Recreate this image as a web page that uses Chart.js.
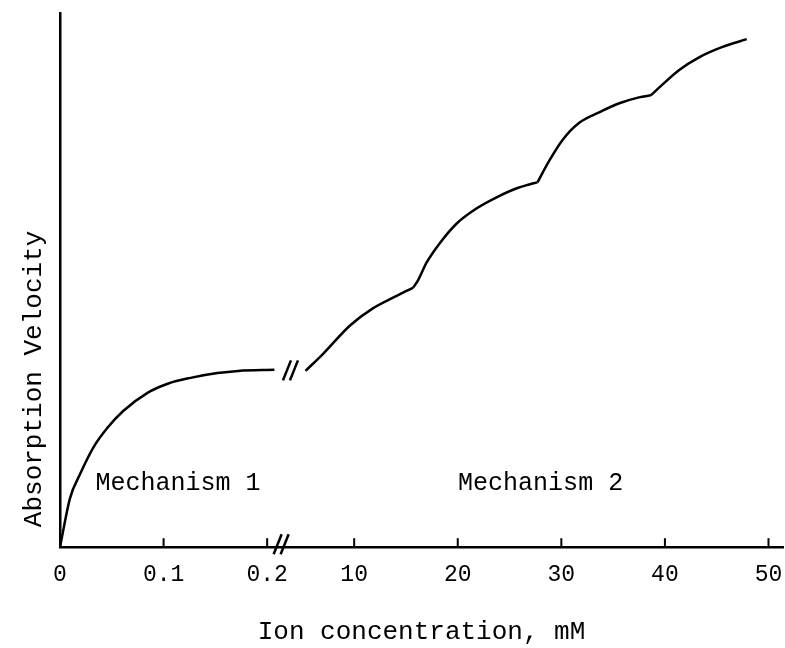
<!DOCTYPE html>
<html>
<head>
<meta charset="utf-8">
<script src="https://cdn.jsdelivr.net/npm/chart.js@4"></script>
<style>
    html, body { margin: 0; padding: 0; background: #fff; }
</style>
</head>
<body>
<canvas id="absorptionChart" width="785" height="648"></canvas>
<script>
// Mechanism 1: low concentration range (mM)
const mech1Conc = [0, 0.0097, 0.0194, 0.032, 0.0456, 0.061, 0.0845, 0.104, 0.126, 0.152, 0.172, 0.207];
const mech1Vel  = [0, 9.2, 13.7, 18.6, 22.3, 25.5, 28.9, 30.6, 31.7, 32.6, 33.0, 33.2];

// Mechanism 2: high concentration range, split at the cusps
const mech2aConc = [5.3, 7.0, 9.6, 11.8, 13.75, 15.7];
const mech2aVel  = [33.0, 36.2, 41.5, 44.7, 46.7, 48.6];
const mech2bConc = [15.7, 16.15, 17.0, 18.3, 19.9, 21.8, 23.75, 25.7, 26.9, 27.7];
const mech2bVel  = [48.6, 49.9, 53.3, 57.0, 60.6, 63.4, 65.5, 67.2, 67.9, 68.3];
const mech2cConc = [27.7, 28.85, 30.1, 31.7, 33.65, 35.6, 37.5, 38.65];
const mech2cVel  = [68.3, 72.4, 76.2, 79.4, 81.4, 83.1, 84.2, 84.6];
const mech2dConc = [38.65, 39.7, 41.35, 43.3, 45.5, 47.9];
const mech2dVel  = [84.6, 86.5, 89.3, 91.7, 93.6, 95.1];

// x axis tick labels (axis is broken between 0.2 and 10 mM)
const tickConc   = [0, 0.1, 0.2, 10, 20, 30, 40, 50];
const tickLabels = ['0', '0.1', '0.2', '10', '20', '30', '40', '50'];

// map a concentration onto the broken axis
function toAxis(c) {
    return c <= 1 ? c * 1000 : 284 + (c - 10) * 10;
}

function toPoints(conc, vel) {
    return conc.map((c, i) => ({ x: toAxis(c), y: vel[i] }));
}

const FONT = "'Liberation Mono', 'DejaVu Sans Mono', monospace";

function curve(conc, vel) {
    return {
        data: toPoints(conc, vel),
        borderColor: '#000',
        borderWidth: 2.5,
        pointRadius: 0,
        cubicInterpolationMode: 'monotone',
        fill: false
    };
}

// tick marks pointing up, break marks, y title and the two labels
const extrasPlugin = {
    id: 'extras',
    afterDraw(chart) {
        const ctx = chart.ctx;
        const xs = chart.scales.x;
        const ys = chart.scales.y;
        const bottom = chart.chartArea.bottom;
        ctx.save();
        ctx.strokeStyle = '#000';
        ctx.lineWidth = 2;
        xs.ticks.forEach((t, i) => {
            if (i === 0) return;
            const px = xs.getPixelForValue(t.value);
            ctx.beginPath();
            ctx.moveTo(px, bottom);
            ctx.lineTo(px, bottom - 9);
            ctx.stroke();
        });

        const slash = (cx, cy) => {
            ctx.beginPath();
            ctx.moveTo(cx - 4, cy + 10);
            ctx.lineTo(cx + 4, cy - 10);
            ctx.stroke();
        };
        ctx.lineWidth = 2.5;

        // break on the axis
        const bx = xs.getPixelForValue(toAxis(0.213));
        slash(bx - 3, bottom - 3);
        slash(bx + 4, bottom - 3);

        // break on the curve
        const cx = xs.getPixelForValue(toAxis(0.222));
        const cy = ys.getPixelForValue(33.1);
        slash(cx - 3, cy);
        slash(cx + 4, cy);

        ctx.fillStyle = '#000';
        ctx.textAlign = 'center';
        ctx.textBaseline = 'middle';

        // mechanism labels
        ctx.font = '25px ' + FONT;
        ctx.fillText('Mechanism 1', xs.getPixelForValue(toAxis(0.114)), ys.getPixelForValue(12));
        ctx.fillText('Mechanism 2', xs.getPixelForValue(toAxis(28)), ys.getPixelForValue(12));

        // y axis title, sits a bit below the middle in the original
        ctx.font = '26px ' + FONT;
        ctx.translate(34, ys.getPixelForValue(31.5));
        ctx.rotate(-Math.PI / 2);
        ctx.fillText('Absorption Velocity', 0, 0);
        ctx.restore();
    }
};

const chart = new Chart(document.getElementById('absorptionChart').getContext('2d'), {
    type: 'line',
    data: {
        datasets: [
            curve(mech1Conc, mech1Vel),
            curve(mech2aConc, mech2aVel),
            curve(mech2bConc, mech2bVel),
            curve(mech2cConc, mech2cVel),
            curve(mech2dConc, mech2dVel)
        ]
    },
    options: {
        responsive: false,
        animation: false,
        layout: { padding: { left: 20, right: 2, top: 13, bottom: 0 } },
        plugins: {
            legend: { display: false },
            tooltip: { enabled: false }
        },
        scales: {
            x: {
                type: 'linear',
                min: 0,
                max: 698,
                afterBuildTicks: (scale) => {
                    scale.ticks = tickConc.map(c => ({ value: toAxis(c) }));
                },
                afterFit: (scale) => {
                    scale.paddingLeft = 0;
                    scale.paddingRight = 0;
                },
                ticks: {
                    color: '#000',
                    padding: 14,
                    maxRotation: 0,
                    autoSkip: false,
                    font: { family: FONT, size: 23 },
                    callback: (value, index) => tickLabels[index]
                },
                grid: { display: false, drawTicks: false },
                border: { display: true, color: '#000', width: 2.5 },
                title: {
                    display: true,
                    text: 'Ion concentration, mM',
                    color: '#000',
                    font: { family: FONT, size: 26 },
                    padding: { top: 14, bottom: 0 }
                }
            },
            y: {
                min: 0,
                max: 100,
                afterFit: (scale) => {
                    scale.width = 40;
                },
                ticks: { display: false },
                grid: { display: false, drawTicks: false },
                border: { display: true, color: '#000', width: 2.5 },
                title: { display: false }
            }
        }
    },
    plugins: [extrasPlugin]
});
</script>
</body>
</html>
